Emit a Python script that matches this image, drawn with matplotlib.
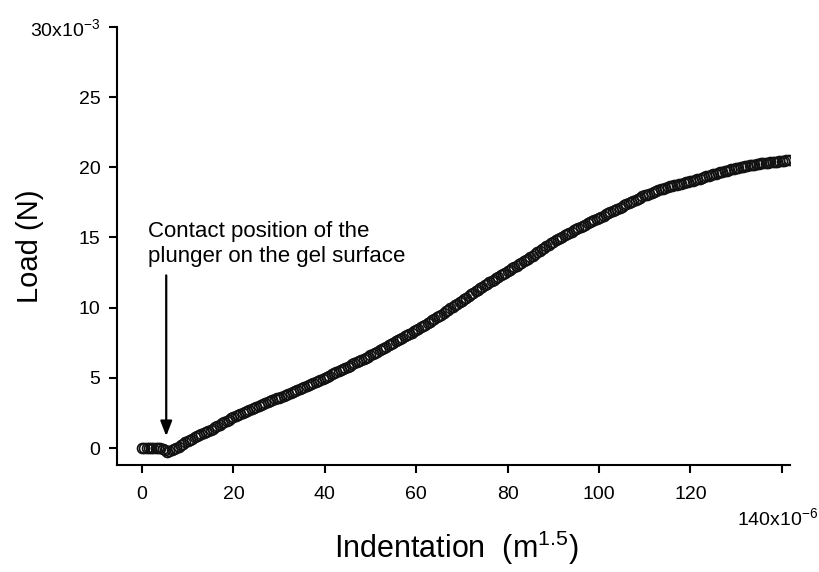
import numpy as np
import matplotlib
matplotlib.use("Agg")
from matplotlib import pyplot as plt

plt.rcParams["font.family"] = ["Liberation Sans", "DejaVu Sans"]
plt.rcParams["mathtext.fontset"] = "custom"
plt.rcParams["mathtext.rm"] = "Liberation Sans"
plt.rcParams["mathtext.it"] = "Liberation Sans"

# Load (x10^-3 N), one reading every 0.5 x10^-6 m^1.5 of indentation
step = 0.5
load = [
    0.0, 0.02, -0.01, 0.01, 0.0, 0.02, -0.02, 0.01, 0.0,
    -0.05, -0.15, -0.25, -0.22, -0.15, -0.1, 0.0, 0.1, 0.2, 0.3, 0.4, 0.5,
    0.58, 0.67, 0.76, 0.85, 0.93, 1.0, 1.08, 1.15, 1.23, 1.3,
    1.39, 1.48, 1.57, 1.66, 1.75, 1.84, 1.93, 2.02, 2.11, 2.2,
    2.27, 2.34, 2.41, 2.48, 2.55, 2.62, 2.69, 2.76, 2.83, 2.9,
    2.97, 3.04, 3.11, 3.18, 3.25, 3.32, 3.39, 3.46, 3.53, 3.6,
    3.67, 3.74, 3.81, 3.88, 3.95, 4.02, 4.09, 4.16, 4.23, 4.3,
    4.37, 4.44, 4.51, 4.58, 4.65, 4.72, 4.79, 4.86, 4.93, 5.0,
    5.08, 5.16, 5.24, 5.32, 5.4, 5.48, 5.56, 5.64, 5.72, 5.8,
    5.88, 5.96, 6.04, 6.12, 6.2, 6.28, 6.36, 6.44, 6.52, 6.6,
    6.69, 6.78, 6.87, 6.96, 7.05, 7.14, 7.23, 7.32, 7.41, 7.5,
    7.59, 7.68, 7.77, 7.86, 7.95, 8.04, 8.13, 8.22, 8.31, 8.4,
    8.5, 8.6, 8.7, 8.8, 8.9, 9.0, 9.1, 9.2, 9.3, 9.4,
    9.51, 9.62, 9.73, 9.84, 9.95, 10.06, 10.17, 10.28, 10.39, 10.5,
    10.61, 10.72, 10.83, 10.94, 11.05, 11.16, 11.27, 11.38, 11.49, 11.6,
    11.7, 11.8, 11.9, 12.0, 12.1, 12.2, 12.3, 12.4, 12.5, 12.6,
    12.7, 12.8, 12.9, 13.0, 13.1, 13.2, 13.3, 13.4, 13.5, 13.6,
    13.71, 13.82, 13.93, 14.04, 14.15, 14.26, 14.37, 14.48, 14.59, 14.7,
    14.79, 14.88, 14.97, 15.06, 15.15, 15.24, 15.33, 15.42, 15.51, 15.6,
    15.68, 15.76, 15.84, 15.92, 16.0, 16.08, 16.16, 16.24, 16.32, 16.4,
    16.48, 16.56, 16.64, 16.72, 16.8, 16.88, 16.96, 17.04, 17.12, 17.2,
    17.28, 17.36, 17.44, 17.52, 17.6, 17.68, 17.76, 17.84, 17.92, 18.0,
    18.06, 18.12, 18.18, 18.24, 18.3, 18.36, 18.42, 18.48, 18.54, 18.6,
    18.64, 18.68, 18.72, 18.76, 18.8, 18.84, 18.88, 18.92, 18.96, 19.0,
    19.05, 19.1, 19.15, 19.2, 19.25, 19.3, 19.35, 19.4, 19.45, 19.5,
    19.55, 19.59, 19.64, 19.68, 19.73, 19.77, 19.82, 19.86, 19.91, 19.95,
    19.98, 20.01, 20.04, 20.07, 20.1, 20.13, 20.16, 20.19, 20.22, 20.25,
    20.27, 20.29, 20.31, 20.33, 20.35, 20.37, 20.39, 20.41, 20.43, 20.45,
    20.48, 20.51, 20.55,
]
indentation = [i * step for i in range(len(load))]

x_ticks = [0, 20, 40, 60, 80, 100, 120, 140]
x_tick_labels = ["0", "20", "40", "60", "80", "100", "120", ""]
y_ticks = [0, 5, 10, 15, 20, 25, 30]
y_tick_labels = ["0", "5", "10", "15", "20", "25", r"30x10$^{\mathregular{-3}}$"]

contact_x = 5.3
note = "Contact position of the\nplunger on the gel surface"

fig = plt.figure(figsize=(8.2, 5.72), dpi=100)
ax = fig.add_axes([0.1427, 0.187, 0.8207, 0.766])

ax.plot(indentation, load, linestyle="none", marker="o", markersize=7.2,
        markerfacecolor="none", markeredgecolor="#111111", markeredgewidth=1.2)

ax.set_xlim(-5.47, 141.8)
ax.set_ylim(-1.21, 30)

for side in ["top", "right"]:
    ax.spines[side].set_visible(False)
for side in ["left", "bottom"]:
    ax.spines[side].set_linewidth(1.5)

ax.set_xticks(x_ticks)
ax.set_xticklabels(x_tick_labels)
ax.set_yticks(y_ticks)
ax.set_yticklabels(y_tick_labels)
ax.tick_params(axis="both", direction="out", length=6, width=1.5, labelsize=14)
ax.tick_params(axis="x", pad=9)
ax.tick_params(axis="y", pad=6)

# last x tick label sits lower than the others
ax.annotate(r"140x10$^{\mathregular{-6}}$", xy=(140, 0), xycoords=("data", "axes fraction"),
            xytext=(-3, -30), textcoords="offset points", ha="center", va="top", fontsize=14)

ax.set_xlabel(r"Indentation  (m$^{\mathregular{1.5}}$)", fontsize=22)
ax.xaxis.set_label_coords(0.504, -0.145)
ax.set_ylabel("Load (N)", fontsize=21)
ax.yaxis.set_label_coords(-0.108, 0.5)

ax.text(1.3, 16.2, note, fontsize=16, ha="left", va="top", linespacing=1.3)
ax.annotate("", xy=(contact_x, 0.85), xytext=(contact_x, 12.3),
            arrowprops=dict(arrowstyle="-|>,head_length=0.9,head_width=0.35",
                            color="black", lw=1.6, shrinkA=0, shrinkB=0))

fig.savefig("out.png", dpi=100)
